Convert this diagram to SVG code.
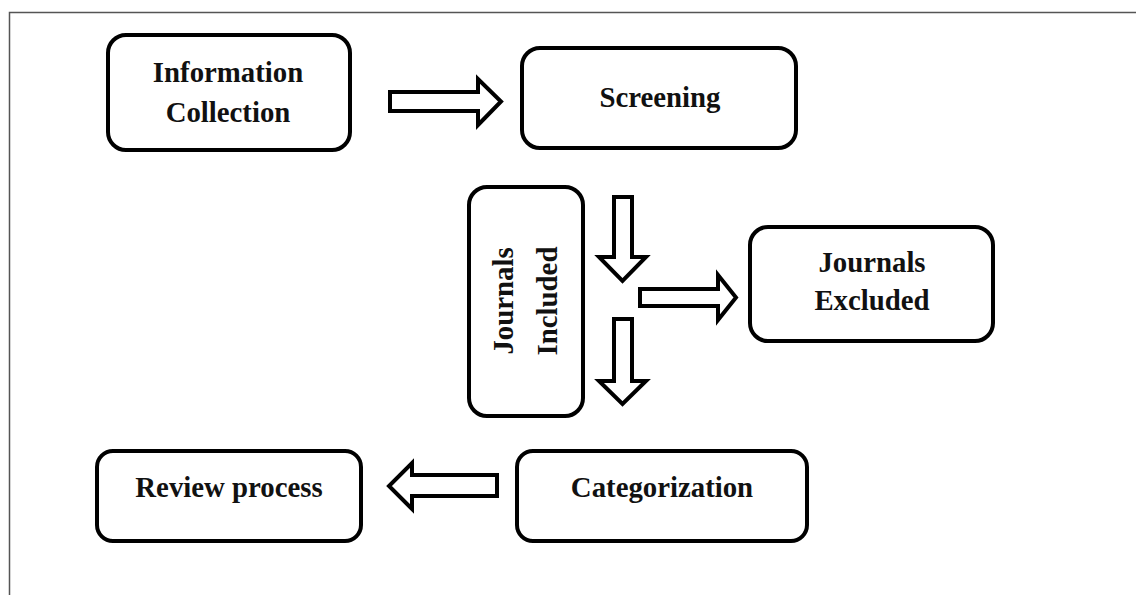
<svg xmlns="http://www.w3.org/2000/svg" width="1136" height="595" viewBox="0 0 1136 595">
<style>
.box{fill:#fff;stroke:#000;stroke-width:4}
.arr{fill:#fff;stroke:#000;stroke-width:4;stroke-linejoin:miter}
.t{font-family:"Liberation Serif","Times New Roman",serif;font-weight:bold;font-size:30px;fill:#111;text-anchor:middle}
</style>
<rect width="1136" height="595" fill="#fff"/>
<path d="M9.5,595 V12.5 H1136" fill="none" stroke="#555" stroke-width="1.5"/>
<g id="info">
<rect class="box" x="108" y="35" width="242" height="115" rx="18"/>
<text class="t" x="228" y="82" transform="translate(228,0) scale(0.96,1) translate(-228,0)">Information</text>
<text class="t" x="228" y="122" transform="translate(228,0) scale(0.96,1) translate(-228,0)">Collection</text>
</g>
<g id="screening">
<rect class="box" x="522" y="48" width="274" height="100" rx="18"/>
<text class="t" x="660" y="107" transform="translate(660,0) scale(0.96,1) translate(-660,0)">Screening</text>
</g>
<g id="included">
<rect class="box" x="469" y="187" width="114" height="229" rx="18"/>
<text class="t" transform="translate(513,301) rotate(-90) scale(0.96,1)" x="0" y="0">Journals</text>
<text class="t" transform="translate(557,301) rotate(-90) scale(0.96,1)" x="0" y="0">Included</text>
</g>
<g id="excluded">
<rect class="box" x="750" y="227" width="243" height="114" rx="18"/>
<text class="t" x="872" y="272" transform="translate(872,0) scale(0.96,1) translate(-872,0)">Journals</text>
<text class="t" x="872" y="310" transform="translate(872,0) scale(0.96,1) translate(-872,0)">Excluded</text>
</g>
<g id="review">
<rect class="box" x="97" y="451" width="264" height="90" rx="16"/>
<text class="t" x="229" y="497" transform="translate(229,0) scale(0.96,1) translate(-229,0)">Review process</text>
</g>
<g id="categorization">
<rect class="box" x="517" y="451" width="290" height="90" rx="16"/>
<text class="t" x="662" y="497" transform="translate(662,0) scale(0.96,1) translate(-662,0)">Categorization</text>
</g>
<g id="connectors">
<path class="arr" d="M390,92 H478 V79 L501,101.5 L478,125 V111 H390 Z"/>
<path class="arr" d="M614,197 V257 H599 L622.5,281 L646,257 H632 V197 Z"/>
<path class="arr" d="M614,319 V381 H599 L622.5,404 L646,381 H632 V319 Z"/>
<path class="arr" d="M640,289 H718 V275 L736,297.5 L718,320 V306 H640 Z"/>
<path class="arr" d="M497,475 H412 V463 L389,486 L412,509 V496 H497 Z"/>
</g>
</svg>
